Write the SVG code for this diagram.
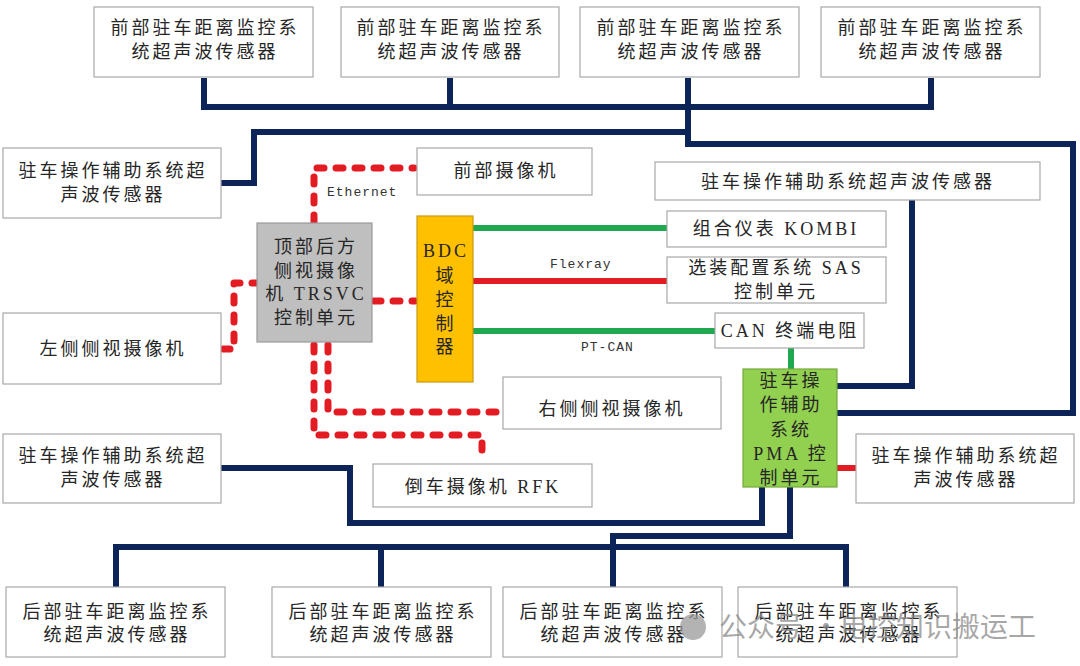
<svg xmlns="http://www.w3.org/2000/svg" width="1080" height="666" viewBox="0 0 1080 666">
<defs><style>
.box{fill:#fff;stroke:#a8a8a8;stroke-width:1.2}
.t{font-family:"Liberation Serif","Noto Sans CJK SC",serif;font-size:18px;letter-spacing:3px;fill:#262626;text-anchor:middle}
.lbl{font-family:"Liberation Mono",monospace;font-size:13px;letter-spacing:1px;fill:#333}
.bus{fill:none;stroke:#0c2458;stroke-width:6;stroke-linejoin:miter}
.eth{fill:none;stroke:#e31b23;stroke-width:7;stroke-dasharray:7 12;stroke-linecap:round;stroke-linejoin:round}
.gr{stroke:#1fa84f;stroke-width:6;fill:none}
.rd{stroke:#e31b23;stroke-width:6;fill:none}
.wm{font-family:"Noto Sans CJK SC",sans-serif;font-size:28px;fill:#8a8a8a;fill-opacity:0.75}
</style></defs>
<rect x="0" y="0" width="1080" height="666" fill="#fff"/>
<g id="connectors">
<path class="bus" d="M204 78 V107 H931 V78"/>
<path class="bus" d="M450 78 V107"/>
<path class="bus" d="M688 78 V144 H1073 V413 H837"/>
<path class="bus" d="M221 183 H254 V132 H688"/>
<path class="bus" d="M912 200 V386 H837"/>
<path class="bus" d="M221 468 H350 V523 H762 V487"/>
<path class="bus" d="M790 487 V536 H613 V587"/>
<path class="bus" d="M116 587 V547 H846 V587"/>
<path class="bus" d="M381 547 V587"/>
<path class="eth" d="M314 222 V168 H414"/>
<path class="eth" d="M374 301 H415"/>
<path class="eth" d="M223 349 H234 V283 H256"/>
<path class="eth" d="M314 345 V435 H482 V462"/>
<path class="eth" d="M328 345 V412 H500"/>
<path class="gr" d="M473 228 H667"/>
<path class="gr" d="M473 331 H715"/>
<path class="gr" d="M791 348 V369"/>
<path class="rd" d="M473 281 H667"/>
<path class="rd" d="M837 468 H856"/>
<text class="lbl" x="327" y="196">Ethernet</text>
<text class="lbl" x="550" y="268">Flexray</text>
<text class="lbl" x="581" y="351">PT-CAN</text>
</g>
<g id="front1"><rect class="box" x="94" y="7" width="219" height="70"/><text class="t" x="205" y="34">前部驻车距离监控系</text><text class="t" x="205" y="58">统超声波传感器</text></g>
<g id="front2"><rect class="box" x="341" y="7" width="218" height="70"/><text class="t" x="451" y="34">前部驻车距离监控系</text><text class="t" x="451" y="58">统超声波传感器</text></g>
<g id="front3"><rect class="box" x="580" y="7" width="219" height="70"/><text class="t" x="691" y="34">前部驻车距离监控系</text><text class="t" x="691" y="58">统超声波传感器</text></g>
<g id="front4"><rect class="box" x="821" y="7" width="219" height="70"/><text class="t" x="932" y="34">前部驻车距离监控系</text><text class="t" x="932" y="58">统超声波传感器</text></g>
<g id="pmaSensorL1"><rect class="box" x="3" y="148" width="218" height="70"/><text class="t" x="113" y="177">驻车操作辅助系统超</text><text class="t" x="113" y="201">声波传感器</text></g>
<g id="frontCam"><rect class="box" x="417" y="148" width="175" height="47"/><text class="t" x="506" y="177">前部摄像机</text></g>
<g id="pmaSensorTR"><rect class="box" x="655" y="162" width="385" height="38"/><text class="t" x="848" y="188">驻车操作辅助系统超声波传感器</text></g>
<g id="trsvc"><rect x="257" y="223" width="115" height="119" fill="#bfbfbf" stroke="#9a9a9a" stroke-width="1.2"/>
<text class="t" x="316" y="253">顶部后方</text><text class="t" x="316" y="277">侧视摄像</text><text class="t" x="316" y="300">机 TRSVC</text><text class="t" x="316" y="324">控制单元</text></g>
<g id="bdc"><rect x="417" y="216" width="56" height="166" fill="#ffc000" stroke="#c89a10" stroke-width="1.2"/>
<text class="t" x="446" y="257">BDC</text><text class="t" x="446" y="282">域</text><text class="t" x="446" y="306">控</text><text class="t" x="446" y="330">制</text><text class="t" x="446" y="353">器</text></g>
<g id="kombi"><rect class="box" x="667" y="211" width="219" height="36"/><text class="t" x="776" y="235">组合仪表 KOMBI</text></g>
<g id="sas"><rect class="box" x="667" y="257" width="219" height="46"/><text class="t" x="776" y="274">选装配置系统 SAS</text><text class="t" x="776" y="298">控制单元</text></g>
<g id="can"><rect class="box" x="715" y="313" width="149" height="35"/><text class="t" x="790" y="337">CAN 终端电阻</text></g>
<g id="leftCam"><rect class="box" x="3" y="313" width="218" height="71"/><text class="t" x="113" y="355">左侧侧视摄像机</text></g>
<g id="pma"><rect x="743" y="369" width="94" height="118" fill="#92d050" stroke="#76a83c" stroke-width="1.2"/>
<text class="t" x="791" y="387">驻车操</text><text class="t" x="791" y="411">作辅助</text><text class="t" x="791" y="436">系统</text><text class="t" x="791" y="460">PMA 控</text><text class="t" x="791" y="484">制单元</text></g>
<g id="rightCam"><rect class="box" x="503" y="377" width="218" height="52"/><text class="t" x="612" y="415">右侧侧视摄像机</text></g>
<g id="pmaSensorL2"><rect class="box" x="3" y="434" width="218" height="69"/><text class="t" x="113" y="462">驻车操作辅助系统超</text><text class="t" x="113" y="486">声波传感器</text></g>
<g id="pmaSensorR2"><rect class="box" x="856" y="434" width="218" height="69"/><text class="t" x="966" y="462">驻车操作辅助系统超</text><text class="t" x="966" y="486">声波传感器</text></g>
<g id="rfk"><rect class="box" x="373" y="464" width="219" height="43"/><text class="t" x="483" y="493">倒车摄像机 RFK</text></g>
<g id="rear1"><rect class="box" x="6" y="587" width="219" height="70"/><text class="t" x="117" y="618">后部驻车距离监控系</text><text class="t" x="117" y="641">统超声波传感器</text></g>
<g id="rear2"><rect class="box" x="272" y="587" width="219" height="70"/><text class="t" x="383" y="618">后部驻车距离监控系</text><text class="t" x="383" y="641">统超声波传感器</text></g>
<g id="rear3"><rect class="box" x="503" y="587" width="219" height="70"/><text class="t" x="614" y="618">后部驻车距离监控系</text><text class="t" x="614" y="641">统超声波传感器</text></g>
<g id="rear4"><rect class="box" x="738" y="587" width="219" height="70"/><text class="t" x="849" y="618">后部驻车距离监控系</text><text class="t" x="849" y="641">统超声波传感器</text></g>
<g id="watermark">
<circle cx="693" cy="627" r="13" fill="#9a9a9a" fill-opacity="0.75"/>
<text class="wm" y="637"><tspan x="719">公众号</tspan><tspan x="812">·</tspan><tspan x="840">电控知识搬运工</tspan></text>
</g>
</svg>
